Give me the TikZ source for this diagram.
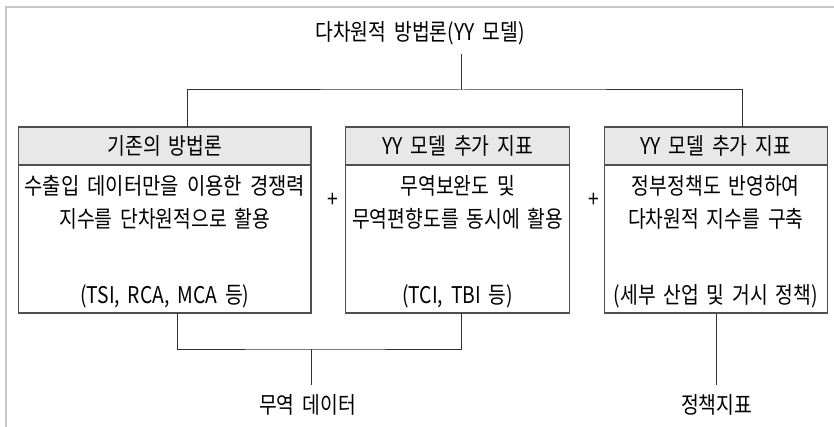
\documentclass[tikz,border=0pt]{standalone}
\usepackage{graphicx}
\usepackage{fontspec}
\setmainfont{Noto Sans CJK KR}[FakeStretch=0.84, WordSpace=1.8]
\definecolor{framecol}{HTML}{C8C8C8}
\definecolor{boxcol}{HTML}{505050}
\definecolor{headfill}{HTML}{E8E8E8}
\definecolor{linecol}{HTML}{303030}
\begin{document}
\begin{tikzpicture}[x=1pt,y=-1pt,
  txt/.style={inner sep=0pt, font=\fontsize{23}{27}\selectfont, text=black},
  headbox/.style={draw=boxcol, line width=1.4pt, fill=headfill, minimum width=#1, minimum height=38pt, inner sep=0pt},
  bodybox/.style={draw=boxcol, line width=1.4pt, fill=white, minimum width=#1, minimum height=148pt, inner sep=0pt},
  conn/.style={draw=linecol, line width=1pt}]
\useasboundingbox (0,0) rectangle (834,427);
\draw[framecol, line width=2pt] (6,427) -- (6,7) -- (834,7);

% title
\node[txt] (t) at (420,33) {다차원적 방법론(YY 모델)};
\coordinate (tj) at (461.7,54);

% boxes
\node[bodybox=292.3pt] (b1) at (164.85,239) {};
\node[headbox=292.3pt] (h1) at (164.85,146) {};
\node[bodybox=224pt] (b2) at (457.7,239) {};
\node[headbox=224pt] (h2) at (457.7,146) {};
\node[bodybox=223pt] (b3) at (715.8,239) {};
\node[headbox=223pt] (h3) at (715.8,146) {};

% header texts
\node[txt] (h1t) at (h1.center) {기존의 방법론};
\node[txt] (h2t) at (h2.center) {YY 모델 추가 지표};
\node[txt] (h3t) at (h3.center) {YY 모델 추가 지표};

% body texts
\node[txt] (b1a) at (164.85,186) {\scalebox{1.03}[1]{수출입 데이터만을 이용한 경쟁력}};
\node[txt] (b1b) at (164.85,219) {지수를 단차원적으로 활용};
\node[txt] (b1c) at (164.85,296) {(TSI, RCA, MCA 등)};
\node[txt] (b2a) at (457.7,186) {무역보완도 및};
\node[txt] (b2b) at (457.7,219) {무역편향도를 동시에 활용};
\node[txt] (b2c) at (457.7,296) {(TCI, TBI 등)};
\node[txt] (b3a) at (715.8,186) {정부정책도 반영하여};
\node[txt] (b3b) at (715.8,219) {다차원적 지수를 구축};
\node[txt] (b3c) at (715.8,296) {(세부 산업 및 거시 정책)};

% plus signs
\node[txt] (p1) at (333,200) {+};
\node[txt] (p2) at (594,200) {+};

% bottom labels
\node[txt] (l1) at (307.5,405) {무역 데이터};
\node[txt] (l2) at (716.7,405) {정책지표};
\coordinate (l1j) at (311,385);
\coordinate (l2j) at (716.7,385);

% top connectors
\coordinate (tb) at (461.7,90);
\coordinate (c1) at (187.7,127);
\coordinate (c3) at (742,127);
\draw[conn] (tj) -- (tb);
\draw[conn] (c1) |- (tb) -| (c3);

% bottom connectors
\coordinate (d1) at (177.3,313);
\coordinate (d2) at (461.7,313);
\coordinate (db) at (311,349);
\draw[conn] (d1) |- (db) -| (d2);
\draw[conn] (db) -- (l1j);
\draw[conn] (b3.south -| l2j) -- (l2j);
\end{tikzpicture}
\end{document}
